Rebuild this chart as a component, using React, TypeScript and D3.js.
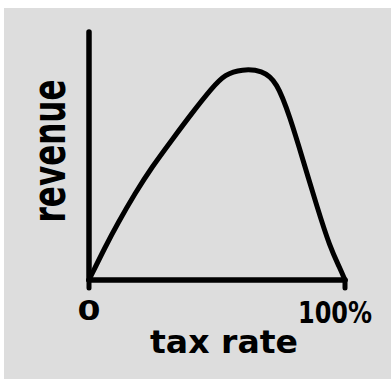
import React from "react";
import * as d3 from "d3";

const taxRate = [0, 6.3, 11.3, 18, 24.6, 32.4, 40.2, 48, 53.1, 59.8, 67.6, 73.4, 78.5, 83.6, 89.1, 94.1, 98, 100];
const revenue = [0, 0.133, 0.23, 0.35, 0.456, 0.565, 0.673, 0.774, 0.83, 0.85, 0.846, 0.8, 0.657, 0.484, 0.294, 0.133, 0.048, 0];
const xTickLabels = ["0", "100%"];
const xTickValues = [0, 100];
const xLabel = "tax rate";
const yLabel = "revenue";

const W = 391;
const H = 379;

export default function App() {
  const x = d3.scaleLinear().domain([0, 100]).range([89, 345]);
  const y = d3.scaleLinear().domain([0, 1]).range([280, 32]);
  const pts: [number, number][] = taxRate.map((t, i) => [x(t), y(revenue[i])]);
  const line = d3.line().curve(d3.curveBasis)(pts) || "";
  const font = "'DejaVu Sans', sans-serif";
  return (
    <svg
      width={W}
      height={H}
      style={{ position: "absolute", left: 0, top: 0, display: "block" }}
    >
      <rect x={0} y={0} width={W} height={H} fill="#ffffff" />
      <rect x={4} y={8} width={W - 4} height={H - 8} fill="#dddddd" />
      {/* y axis */}
      <line x1={x(0)} x2={x(0)} y1={y(1)} y2={y(0)} stroke="#000" strokeWidth={5.5} strokeLinecap="round" />
      {/* x axis */}
      <line x1={x(0)} x2={x(100)} y1={y(0)} y2={y(0)} stroke="#000" strokeWidth={5.5} strokeLinecap="round" />
      {/* ticks */}
      {xTickValues.map((v) => (
        <line key={v} x1={x(v)} x2={x(v)} y1={y(0)} y2={y(0) + 8} stroke="#000" strokeWidth={5} strokeLinecap="round" />
      ))}
      {/* curve */}
      <path d={line} fill="none" stroke="#000" strokeWidth={5} strokeLinecap="round" strokeLinejoin="round" />
      {/* tick labels */}
      <text x={x(xTickValues[0])} y={320} fontFamily={font} fontWeight="bold" fontSize={27} textAnchor="middle" textLength={23} lengthAdjust="spacingAndGlyphs">
        {xTickLabels[0]}
      </text>
      <text x={x(xTickValues[1]) - 10} y={323} fontFamily={font} fontWeight="bold" fontSize={30} textAnchor="middle" textLength={74} lengthAdjust="spacingAndGlyphs">
        {xTickLabels[1]}
      </text>
      {/* x label */}
      <text x={224} y={353} fontFamily={font} fontWeight="bold" fontSize={32} textAnchor="middle" textLength={148} lengthAdjust="spacingAndGlyphs">
        {xLabel}
      </text>
      {/* y label */}
      <text
        transform={`translate(65,151) rotate(-90)`}
        fontFamily={font}
        fontWeight="bold"
        fontSize={46}
        textAnchor="middle"
        textLength={143}
        lengthAdjust="spacingAndGlyphs"
      >
        {yLabel}
      </text>
    </svg>
  );
}
